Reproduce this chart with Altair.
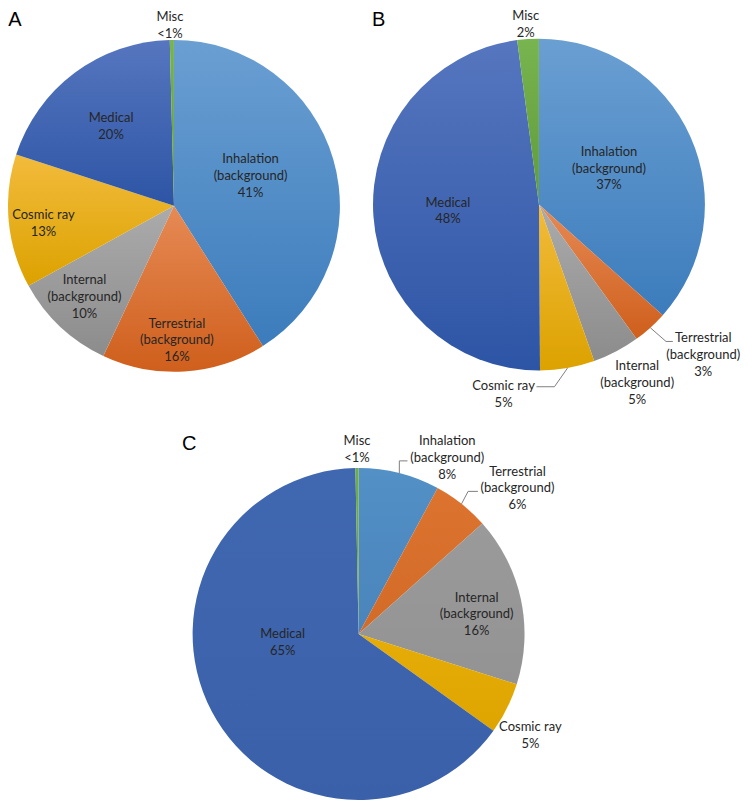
import math
import pandas as pd
import altair as alt

# ---------------- data ----------------
PIES = ["A", "B", "C"]
CATEGORIES = ["Inhalation (background)", "Terrestrial (background)", "Internal (background)",
              "Cosmic ray", "Medical", "Misc"]
LABEL_NAMES = ["Inhalation\n(background)", "Terrestrial\n(background)", "Internal\n(background)",
               "Cosmic ray", "Medical", "Misc"]
VALUES_A = [41.0, 16.0, 10.0, 13.0, 19.6, 0.4]
VALUES_B = [36.6, 3.4, 4.6, 5.3, 48.0, 2.1]
VALUES_C = [7.9, 5.5, 16.5, 5.0, 64.8, 0.3]
PCT_A = ["41%", "16%", "10%", "13%", "20%", "<1%"]
PCT_B = ["37%", "3%", "5%", "5%", "48%", "2%"]
PCT_C = ["8%", "6%", "16%", "5%", "65%", "<1%"]

rows = []
for pie, vals, pcts in zip(PIES, [VALUES_A, VALUES_B, VALUES_C], [PCT_A, PCT_B, PCT_C]):
    for i, (cat, name, v, p) in enumerate(zip(CATEGORIES, LABEL_NAMES, vals, pcts)):
        rows.append({"pie": pie, "order": i, "cat": cat, "value": v, "label": name + "\n" + p})
df = pd.DataFrame(rows)

# ---------------- layout / style ----------------
W, H = 733, 793
S = 0.982
X0, Y0 = 2.0, 1.5
R = 169 * S
LINE_H = 16.7


def P(x, y):
    return ((x - X0) * S, (y - Y0) * S)


CENTERS = {"A": P(171, 203), "B": P(542.7, 201.7), "C": P(359, 639)}
LETTER_POS = {"A": (7 * S, 11.5), "B": (377.5 * S, 11.5), "C": (184.5 * S, 444.5 * S)}

# gradient (top, bottom) colours per category, for A/B; nearly flat for C
GRAD = [("#6a9fd2", "#3c7cbc"), ("#e68a55", "#cf5f1c"), ("#ababab", "#8c8c8c"),
        ("#f2bb3c", "#dca200"), ("#5676bf", "#2d55a5"), ("#78b44f", "#5e9b3a")]
FLAT_C = [("#5290c6", "#4a84bb"), ("#dc7430", "#d36b28"), ("#9a9a9a", "#939393"),
          ("#e6ad08", "#dea500"), ("#4068b0", "#3a60aa"), ("#70ad47", "#6aa542")]

# label placement: (radius fraction, dx, dy) of the centre of the text block
LABEL_LAYOUT = {
    ("A", 0): (0.493, -2, -7), ("A", 1): (0.81, -5.6, 0.4), ("A", 2): (0.77, -2, -2),
    ("A", 3): (0.793, 0.5, 5), ("A", 4): (0.609, -2.5, 2), ("A", 5): (1.0, -2, -14.5),
    ("B", 0): (0.474, -1.8, -4), ("B", 1): (1.0, 54, 27.9), ("B", 2): (1.0, 21.4, 32),
    ("B", 3): (1.0, -65.1, 26.8), ("B", 4): (0.55, 0, 0), ("B", 5): (1.0, -2.4, -14.5),
    ("C", 0): (1.0, 48.8, -15.5), ("C", 1): (1.0, 57, -15.7), ("C", 2): (0.72, 1.2, 5.5),
    ("C", 3): (1.0, 23.9, 27.7), ("C", 4): (0.43, -13, -25), ("C", 5): (1.0, 0, -19),
}
# leader lines: (elbow dx, elbow dy, horizontal length)
LEADERS = {("B", 1): (16, 14, 7), ("B", 3): (-13.3, 19, -18.3),
           ("C", 0): (0, -12.5, 8.3), ("C", 1): (6.7, -12.7, 10)}

FONT = "Lato"
TEXT_COLOR = "#262626"

xs = alt.Scale(domain=[0, W], range=[0, W], nice=False, zero=False)
ys = alt.Scale(domain=[0, H], range=[0, H], nice=False, zero=False)
theta_scale = alt.Scale(domain=[0, 1], range=[0, 2 * math.pi])

base = (
    alt.Chart(df)
    .transform_joinaggregate(total="sum(value)", groupby=["pie"])
    .transform_window(cum="sum(value)", sort=[alt.SortField("order", order="ascending")],
                      groupby=["pie"], frame=[None, 0])
    .transform_calculate(
        t1="(datum.cum - datum.value) / datum.total",
        t2="datum.cum / datum.total",
        mid="(datum.cum - datum.value / 2) / datum.total",
        nl="length(split(datum.label, '\\n'))",
    )
)

layers = []
# slices
for pie in PIES:
    cx, cy = CENTERS[pie]
    for i in range(len(CATEGORIES)):
        top, bot = (GRAD[i] if pie != "C" else FLAT_C[i])
        grad = alt.LinearGradient(
            gradient="linear",
            stops=[alt.GradientStop(color=top, offset=0), alt.GradientStop(color=bot, offset=1)],
            x1=0, x2=0, y1=0, y2=1,
        )
        layers.append(
            base.transform_filter(f"datum.pie == '{pie}' && datum.order == {i}")
            .mark_arc(outerRadius=R, fill=grad)
            .encode(
                x=alt.value(cx), y=alt.value(cy),
                theta=alt.Theta("t1:Q", scale=theta_scale),
                theta2=alt.Theta2("t2:Q"),
            )
        )

# leader lines
for (pie, i), (ex, ey, h) in LEADERS.items():
    cx, cy = CENTERS[pie]
    ld = base.transform_filter(f"datum.pie == '{pie}' && datum.order == {i}").transform_calculate(
        sx=f"{cx} + {R} * sin(2 * PI * datum.mid)",
        sy=f"{cy} - {R} * cos(2 * PI * datum.mid)",
    ).transform_calculate(
        ex=f"datum.sx + {ex * S}", ey=f"datum.sy + {ey * S}",
    ).transform_calculate(
        hx=f"datum.ex + {h * S}",
    )
    layers.append(ld.mark_rule(color="#7f7f7f", strokeWidth=1).encode(
        x=alt.X("sx:Q", scale=xs, axis=None), y=alt.Y("sy:Q", scale=ys, axis=None),
        x2="ex:Q", y2="ey:Q"))
    layers.append(ld.mark_rule(color="#7f7f7f", strokeWidth=1).encode(
        x=alt.X("ex:Q", scale=xs, axis=None), y=alt.Y("ey:Q", scale=ys, axis=None),
        x2="hx:Q", y2="ey:Q"))

# labels
for (pie, i), (rr, dx, dy) in LABEL_LAYOUT.items():
    cx, cy = CENTERS[pie]
    layers.append(
        base.transform_filter(f"datum.pie == '{pie}' && datum.order == {i}")
        .transform_calculate(
            lx=f"{cx} + {rr * R} * sin(2 * PI * datum.mid) + {dx * S}",
            ly=f"{cy} - {rr * R} * cos(2 * PI * datum.mid) + {dy * S} - (datum.nl - 1) / 2 * {LINE_H}",
        )
        .mark_text(font=FONT, fontSize=13, color=TEXT_COLOR, lineBreak="\n",
                   lineHeight=LINE_H, align="center", baseline="middle")
        .encode(x=alt.X("lx:Q", scale=xs, axis=None), y=alt.Y("ly:Q", scale=ys, axis=None),
                text="label:N")
    )

# panel letters
for pie in PIES:
    lx, ly = LETTER_POS[pie]
    layers.append(
        alt.Chart(pd.DataFrame({"letter": [pie]}))
        .mark_text(font="Liberation Sans", fontSize=20, color="#000000", align="center", baseline="middle")
        .encode(x=alt.value(lx), y=alt.value(ly), text="letter:N")
    )

chart = (
    alt.layer(*layers)
    .properties(width=W, height=H, padding=0, autosize="none", background="white")
    .configure_view(stroke=None)
)

chart.save("out.html", embed_options={"renderer": "svg", "actions": False})
